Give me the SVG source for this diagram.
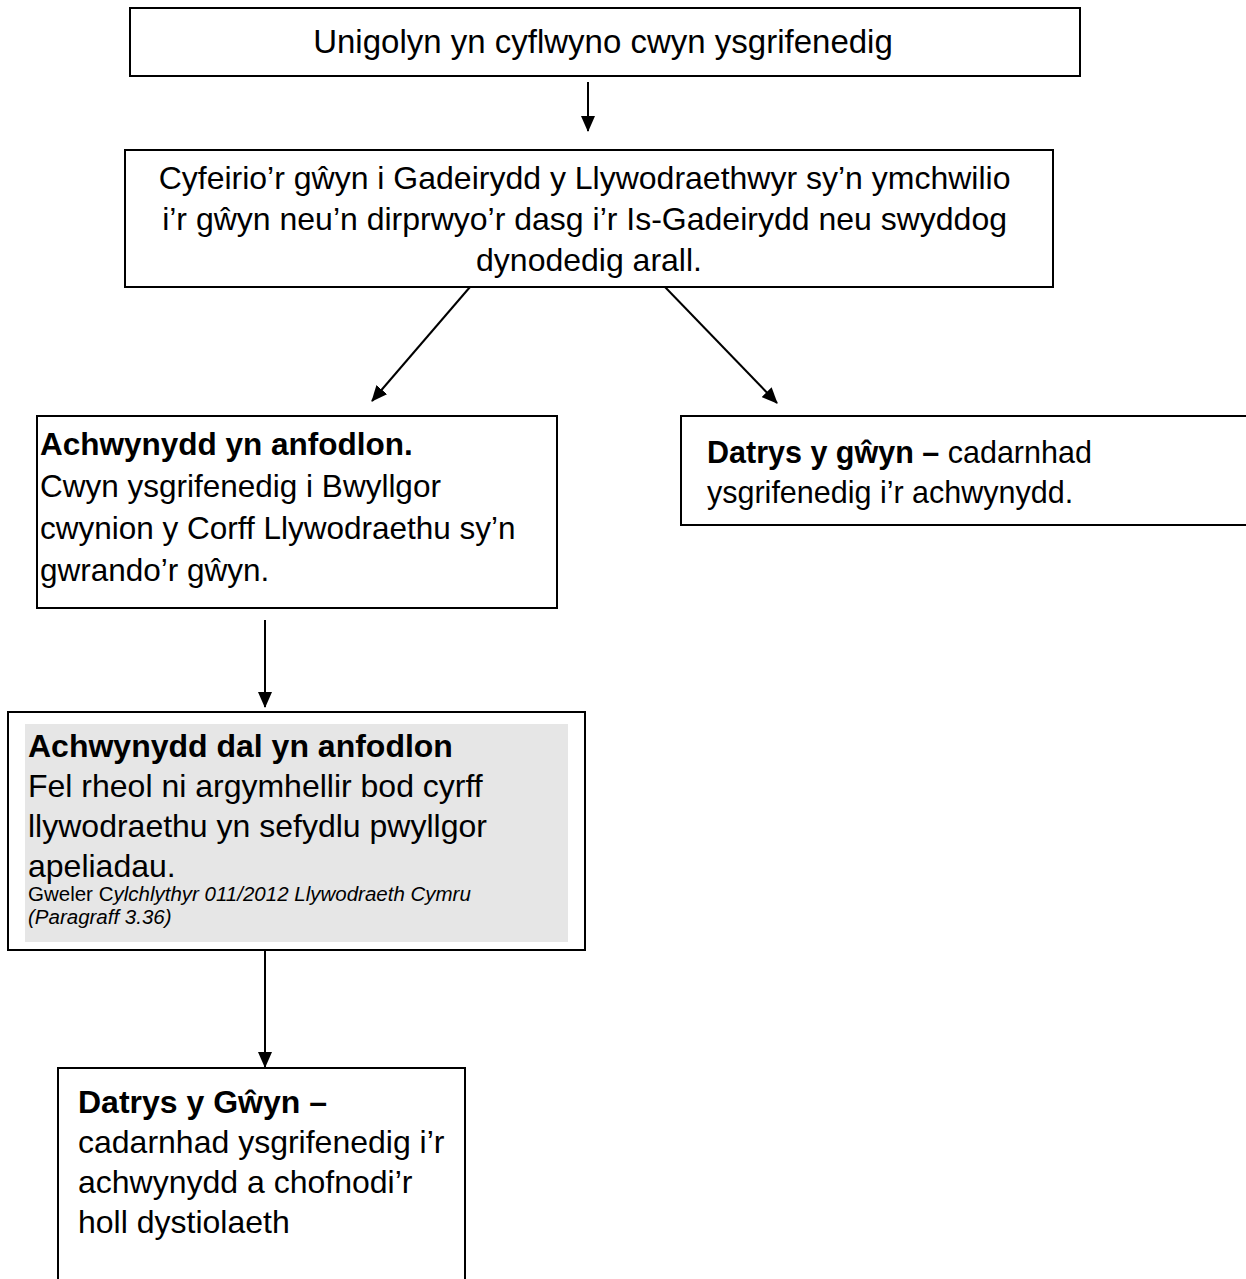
<svg xmlns="http://www.w3.org/2000/svg" width="1246" height="1279" viewBox="0 0 1246 1279">
  <style>
    .box { fill: #ffffff; stroke: #000000; stroke-width: 2; }
    .shade { fill: #e6e6e6; stroke: none; }
    .t { font-family: "Liberation Sans", Arial, sans-serif; fill: #000000; }
    .b { font-weight: bold; }
    .i { font-style: italic; }
    .link { stroke: #000000; stroke-width: 2; fill: none; marker-end: url(#arrow); }
  </style>
  <defs>
    <marker id="arrow" markerWidth="16" markerHeight="14" refX="15" refY="7" orient="auto" markerUnits="userSpaceOnUse" viewBox="0 0 16 14">
      <path d="M0,0 L16,7 L0,14 z" fill="#000000"/>
    </marker>
  </defs>
  <rect width="1246" height="1279" fill="#ffffff"/>

  <g id="connectors">
    <line class="link" x1="588" y1="82" x2="588" y2="131"/>
    <line class="link" x1="470" y1="287" x2="372" y2="401"/>
    <line class="link" x1="665" y1="287" x2="777" y2="403"/>
    <line class="link" x1="265" y1="620" x2="265" y2="707"/>
    <line class="link" x1="265" y1="950" x2="265" y2="1067"/>
  </g>

  <g id="node-submit">
    <rect class="box" x="130" y="8" width="950" height="68"/>
    <text class="t" x="603" y="53" font-size="33" text-anchor="middle">Unigolyn yn cyflwyno cwyn ysgrifenedig</text>
  </g>

  <g id="node-chair">
    <rect class="box" x="125" y="150" width="928" height="137"/>
    <text class="t" font-size="32" text-anchor="middle">
      <tspan x="589" y="189">Cyfeirio’r gŵyn i Gadeirydd y Llywodraethwyr sy’n ymchwilio</tspan>
      <tspan x="589" y="230">i’r gŵyn neu’n dirprwyo’r dasg i’r Is-Gadeirydd neu swyddog</tspan>
      <tspan x="589" y="271">dynodedig arall.</tspan>
    </text>
  </g>

  <g id="node-committee">
    <rect class="box" x="37" y="416" width="520" height="192"/>
    <text class="t" font-size="31.5">
      <tspan class="b" x="40" y="455">Achwynydd yn anfodlon.</tspan>
      <tspan x="40" y="497">Cwyn ysgrifenedig i Bwyllgor</tspan>
      <tspan x="40" y="539">cwynion y Corff Llywodraethu sy’n</tspan>
      <tspan x="40" y="581">gwrando’r gŵyn.</tspan>
    </text>
  </g>

  <g id="node-resolved">
    <rect class="box" x="681" y="416" width="580" height="109"/>
    <text class="t" font-size="30.5">
      <tspan x="707" y="463"><tspan class="b">Datrys y gŵyn – </tspan>cadarnhad</tspan>
      <tspan x="707" y="503">ysgrifenedig i’r achwynydd.</tspan>
    </text>
  </g>

  <g id="node-appeal">
    <rect class="box" x="8" y="712" width="577" height="238"/>
    <rect class="shade" x="25" y="724" width="543" height="218"/>
    <text class="t" font-size="32">
      <tspan class="b" x="28" y="757">Achwynydd dal yn anfodlon</tspan>
      <tspan x="28" y="797">Fel rheol ni argymhellir bod cyrff</tspan>
      <tspan x="28" y="837">llywodraethu yn sefydlu pwyllgor</tspan>
      <tspan x="28" y="877">apeliadau.</tspan>
    </text>
    <text class="t" font-size="20.5">
      <tspan x="28" y="901">Gweler C<tspan class="i">ylchlythyr 011/2012 Llywodraeth Cymru</tspan></tspan>
      <tspan class="i" x="28" y="924">(Paragraff 3.36)</tspan>
    </text>
  </g>

  <g id="node-final">
    <rect class="box" x="58" y="1068" width="407" height="230"/>
    <text class="t" font-size="32">
      <tspan class="b" x="78" y="1113">Datrys y Gŵyn –</tspan>
      <tspan x="78" y="1153">cadarnhad ysgrifenedig i’r</tspan>
      <tspan x="78" y="1193">achwynydd a chofnodi’r</tspan>
      <tspan x="78" y="1233">holl dystiolaeth</tspan>
    </text>
  </g>
</svg>
